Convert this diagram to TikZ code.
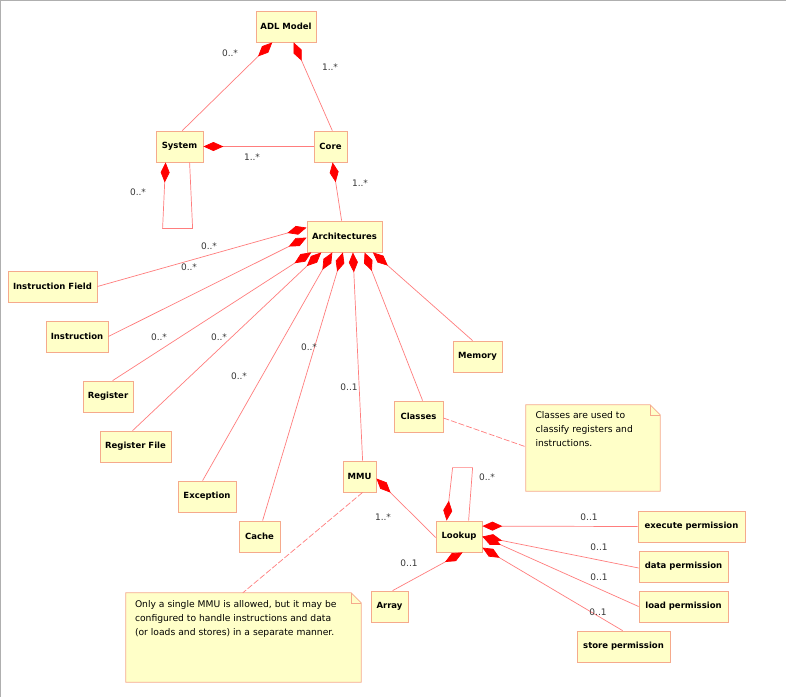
\documentclass[tikz,border=0pt]{standalone}
\usepackage{fontspec}
\setmainfont{DejaVu Sans}
\usetikzlibrary{arrows.meta,calc}
\definecolor{boxfill}{RGB}{255,255,200}
\definecolor{boxborder}{RGB}{245,170,140}
\definecolor{linecol}{RGB}{255,125,125}
\definecolor{dred}{RGB}{255,0,0}
\definecolor{labelcol}{RGB}{55,55,55}
\definecolor{framegray}{RGB}{175,175,175}
\tikzset{
  cls/.style={draw=boxborder, fill=boxfill, line width=0.8pt, font=\bfseries\fontsize{8.5}{10}\selectfont, minimum height=31, inner sep=0, text=black},
  comp/.style={draw=linecol, line width=0.7pt, {Diamond[length=20pt,width=9pt,color=dred,fill=dred]}-},
  mult/.style={font=\fontsize{9}{11}\selectfont, text=labelcol, inner sep=0},
  notelink/.style={draw=linecol, line width=0.7pt, dash pattern=on 6pt off 2pt},
  notearea/.style={inner sep=0, minimum height=0},
  notebody/.style={draw=boxborder, fill=boxfill, line width=0.8pt},
  notetext/.style={font=\fontsize{9.2}{14}\selectfont, align=left, anchor=north west, inner sep=0, text=black},
}
\begin{document}
\begin{tikzpicture}[x={(1pt,0)}, y={(0,-1pt)}]
\useasboundingbox (0,0) rectangle (786,697);
\fill[white] (0,0) rectangle (786,697);
\draw[framegray, line width=1.2pt] (0,0.6) -- (786,0.6);
\draw[framegray, line width=1.2pt] (0.6,0) -- (0.6,697);

% class nodes
\node[cls, minimum width=60] (adl) at (286,26.5) {ADL Model};
\node[cls, minimum width=47] (sys) at (179.5,146.5) {System};
\node[cls, minimum width=33] (core) at (330.5,146.5) {Core};
\node[cls, minimum width=75] (arch) at (344.5,236.5) {Architectures};
\node[cls, minimum width=89] (ifield) at (52.5,286.5) {Instruction Field};
\node[cls, minimum width=62] (instr) at (77,336.5) {Instruction};
\node[cls, minimum width=50] (reg) at (108,396.5) {Register};
\node[cls, minimum width=71] (regfile) at (135.5,446.5) {Register File};
\node[cls, minimum width=58] (exc) at (207,496.5) {Exception};
\node[cls, minimum width=41] (cache) at (259.5,536.5) {Cache};
\node[cls, minimum width=33] (mmu) at (359.5,476.5) {MMU};
\node[cls, minimum width=49] (classes) at (418.5,416.5) {Classes};
\node[cls, minimum width=49] (memory) at (477.5,356.5) {Memory};
\node[cls, minimum width=46] (lookup) at (459,536.5) {Lookup};
\node[cls, minimum width=107] (exec) at (691.5,526.5) {execute permission};
\node[cls, minimum width=89] (data) at (683.5,566.5) {data permission};
\node[cls, minimum width=89] (load) at (683.5,606.5) {load permission};
\node[cls, minimum width=93] (store) at (623.5,646.5) {store permission};
\node[cls, minimum width=37] (array) at (389.5,606.5) {Array};

% notes
\node[notearea, minimum width=134, minimum height=86] (noteC) at (593,448) {};
\draw[notebody] (noteC.north west) -- ($(noteC.north east)+(-10,0)$) -- ($(noteC.north east)+(0,10)$) -- (noteC.south east) -- (noteC.south west) -- cycle;
\draw[draw=boxborder, line width=0.6pt] ($(noteC.north east)+(-10,0)$) -- ($(noteC.north east)+(-10,10)$) -- ($(noteC.north east)+(0,10)$);
\node[notetext] (noteCtext) at ($(noteC.north west)+(9.5,6.5)$) {Classes are used to\\classify registers and\\instructions.};

\node[notearea, minimum width=235, minimum height=89] (noteM) at (243.5,637.5) {};
\draw[notebody] (noteM.north west) -- ($(noteM.north east)+(-10,0)$) -- ($(noteM.north east)+(0,10)$) -- (noteM.south east) -- (noteM.south west) -- cycle;
\draw[draw=boxborder, line width=0.6pt] ($(noteM.north east)+(-10,0)$) -- ($(noteM.north east)+(-10,10)$) -- ($(noteM.north east)+(0,10)$);
\node[notetext] (noteMtext) at ($(noteM.north west)+(9,7)$) {Only a single MMU is allowed, but it may be\\configured to handle instructions and data\\(or loads and stores) in a separate manner.};

% composition connectors
\draw[comp] ($(adl.south west)+(16.7,0)$) -- ($(sys.north west)+(26.7,0)$);
\draw[comp] ($(adl.south west)+(38,0)$) -- ($(core.north west)+(18.7,0)$);
\draw[comp] (sys.east) -- (core.west);
\draw[comp] ($(sys.south west)+(10,0)$) -- ($(sys.south west)+(7,66)$) -- ($(sys.south west)+(37,66)$) -- ($(sys.south west)+(34,0)$);
\draw[comp] ($(core.south west)+(19,0)$) -- ($(arch.north west)+(35,0)$);
\draw[comp] ($(arch.north west)+(0,7)$) -- (ifield.east);
\draw[comp] ($(arch.north west)+(0,17)$) -- (instr.east);
\draw[comp] ($(arch.south west)+(4.7,0)$) -- ($(reg.north west)+(30,0)$);
\draw[comp] ($(arch.south west)+(14.7,0)$) -- ($(regfile.north west)+(33,0)$);
\draw[comp] ($(arch.south west)+(25.7,0)$) -- ($(exc.north west)+(25,0)$);
\draw[comp] ($(arch.south west)+(36.3,0)$) -- ($(cache.north west)+(24,0)$);
\draw[comp] ($(arch.south west)+(46.3,0)$) -- ($(mmu.north west)+(20,0)$);
\draw[comp] ($(arch.south west)+(58,0)$) -- ($(classes.north west)+(29,0)$);
\draw[comp] ($(arch.south west)+(66.3,0)$) -- ($(memory.north west)+(20,0)$);
\draw[comp] ($(mmu.east)+(0,2)$) -- ($(lookup.west)+(0,1)$);
\draw[comp] ($(lookup.north west)+(11,0)$) -- ($(lookup.north west)+(17,-53)$) -- ($(lookup.north west)+(37,-53)$) -- ($(lookup.north west)+(33,0)$);
\draw[comp] ($(lookup.north east)+(0,5.5)$) -- (exec.west);
\draw[comp] ($(lookup.north east)+(0,16)$) -- ($(data.west)+(0,1.5)$);
\draw[comp] ($(lookup.north east)+(0,16)$) -- (load.west);
\draw[comp] ($(lookup.north east)+(0,27)$) -- ($(store.north west)+(46,0)$);
\draw[comp] ($(lookup.south west)+(27,0)$) -- ($(array.north west)+(22,0)$);

% note links
\draw[notelink] ($(classes.east)+(0,1.5)$) -- ($(noteC.north west)+(0,42)$);
\draw[notelink] ($(mmu.south west)+(20,0)$) -- ($(noteM.north west)+(117,0)$);

% multiplicities
\node[mult] (m1) at (230,53) {0..*};
\node[mult] (m2) at (330,67) {1..*};
\node[mult] (m3) at (252,157) {1..*};
\node[mult] (m4) at (138,192) {0..*};
\node[mult] (m5) at (360,183) {1..*};
\node[mult] (m6) at (209,246) {0..*};
\node[mult] (m7) at (189,267) {0..*};
\node[mult] (m8) at (159,337) {0..*};
\node[mult] (m9) at (219,337) {0..*};
\node[mult] (m10) at (239,376) {0..*};
\node[mult] (m11) at (309,347) {0..*};
\node[mult] (m12) at (349,387) {0..1};
\node[mult] (m13) at (383,517) {1..*};
\node[mult] (m14) at (487,477) {0..*};
\node[mult] (m15) at (589,517) {0..1};
\node[mult] (m16) at (599,547) {0..1};
\node[mult] (m17) at (599,577) {0..1};
\node[mult] (m18) at (598,612) {0..1};
\node[mult] (m19) at (409,563) {0..1};
\end{tikzpicture}
\end{document}
